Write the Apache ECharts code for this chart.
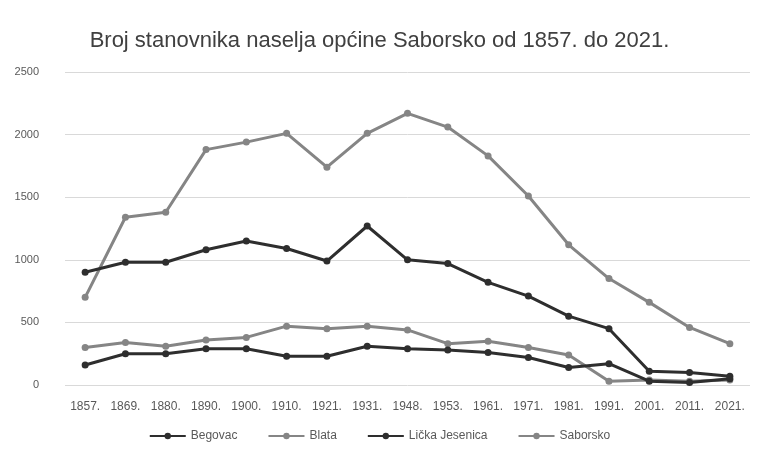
<!DOCTYPE html>
<html><head><meta charset="utf-8">
<script src="https://cdn.jsdelivr.net/npm/echarts@6/dist/echarts.min.js"></script>
<style>html,body{margin:0;padding:0;background:#fff}#c{width:759px;height:459px}</style>
</head><body><div id="c"></div>
<script>
const categories = ['1857.','1869.','1880.','1890.','1900.','1910.','1921.','1931.','1948.','1953.','1961.','1971.','1981.','1991.','2001.','2011.','2021.'];
const begovac = [160,250,250,290,290,230,230,310,290,280,260,220,140,170,30,20,50];
const blata = [300,340,310,360,380,470,450,470,440,330,350,300,240,30,40,30,40];
const lickaJesenica = [900,980,980,1080,1150,1090,990,1270,1000,970,820,710,550,450,110,100,70];
const saborsko = [700,1340,1380,1880,1940,2010,1740,2010,2170,2060,1830,1510,1120,850,660,460,330];
const seriesNames = ['Begovac','Blata','Lička Jesenica','Saborsko'];
const yTicks = {min:0, max:2500, interval:500};

const dark = '#2e2e2e', gray = '#858585';
function mk(name, data, color){
  return {name, type:'line', data, symbol:'circle', symbolSize:7,
    lineStyle:{width:3,color}, itemStyle:{color}, z: color===dark?3:2};
}
const chart = echarts.init(document.getElementById('c'));
chart.setOption({
  animation:false,
  title:{text:'Broj stanovnika naselja općine Saborsko od 1857. do 2021.', left:'center', top:25,
    textStyle:{fontFamily:'Liberation Sans, Arial', fontSize:22, fontWeight:'normal', color:'#404040'}},
  grid:{left:65, right:9, top:72, bottom:74},
  legend:{bottom:12, left:'center', itemWidth:36, itemHeight:8, itemGap:30,
    textStyle:{fontFamily:'Liberation Sans, Arial', fontSize:12, color:'#595959'},
    data:seriesNames},
  xAxis:{type:'category', data:categories, boundaryGap:true,
    axisLine:{show:false}, axisTick:{show:false},
    axisLabel:{fontFamily:'Liberation Sans, Arial', fontSize:12, color:'#595959', margin:16, interval:0}},
  yAxis:{type:'value', min:yTicks.min, max:yTicks.max, interval:yTicks.interval,
    axisLine:{show:false}, axisTick:{show:false},
    axisLabel:{fontFamily:'Liberation Sans, Arial', fontSize:11, color:'#595959', margin:26,
      formatter: v => String(v)},
    splitLine:{lineStyle:{color:'#d9d9d9', width:1}}},
  series:[mk(seriesNames[0], begovac, dark), mk(seriesNames[1], blata, gray),
          mk(seriesNames[2], lickaJesenica, dark), mk(seriesNames[3], saborsko, gray)]
});
</script></body></html>
